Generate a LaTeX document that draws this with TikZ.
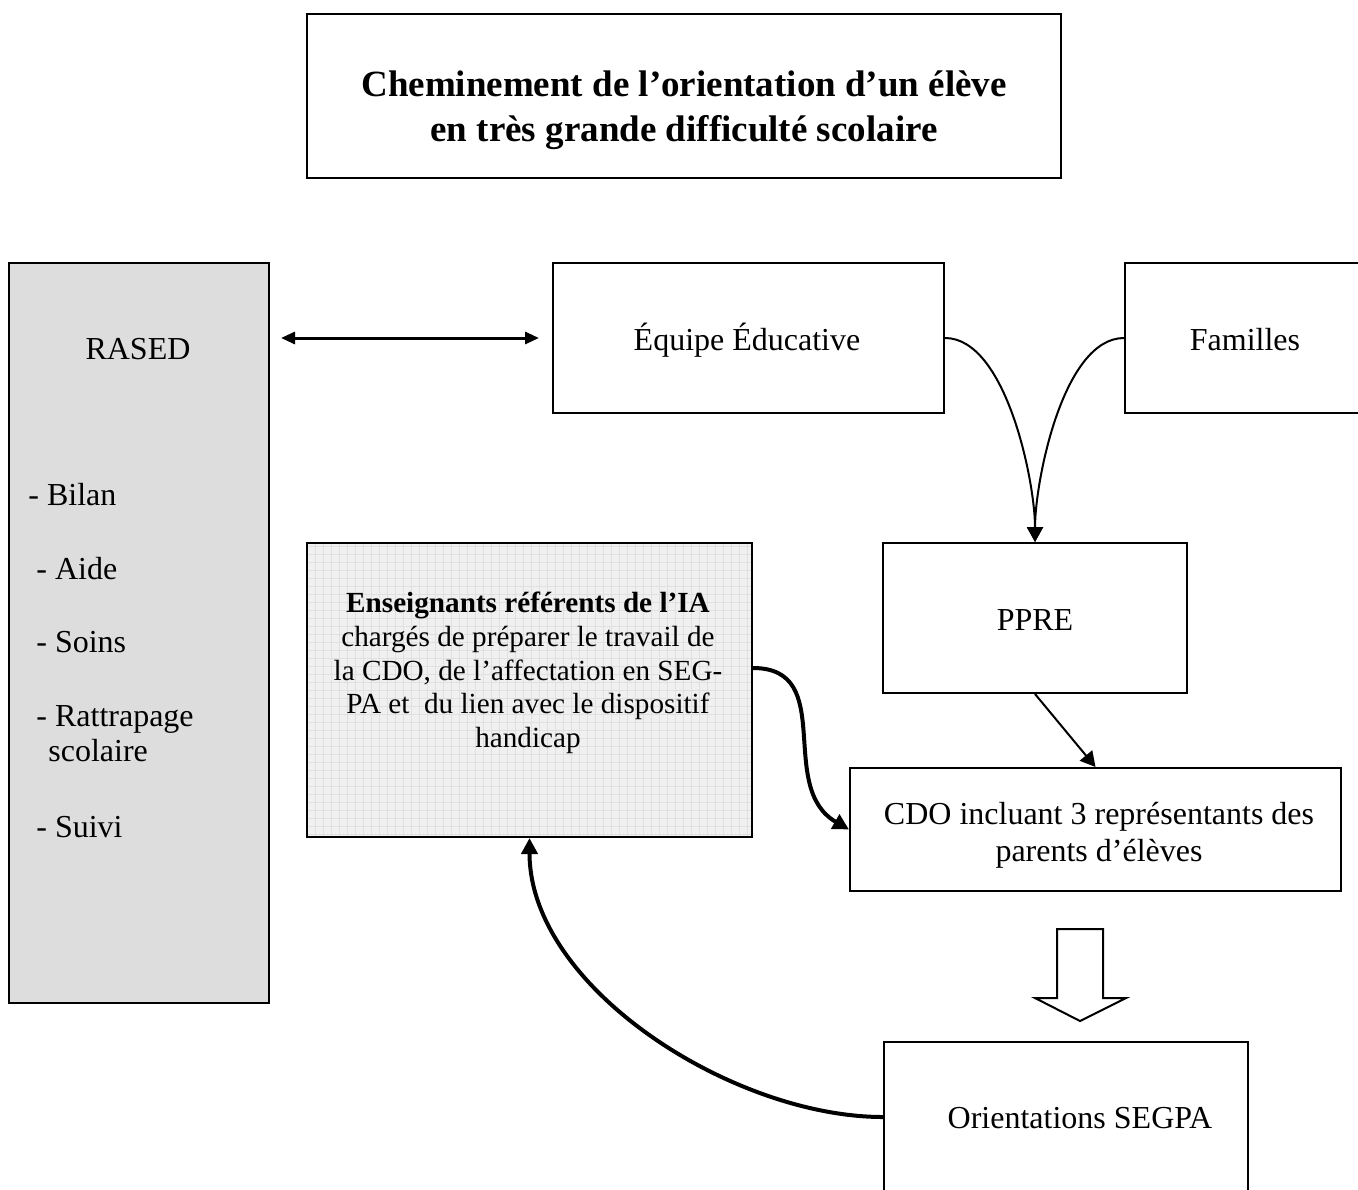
\documentclass[tikz,border=0pt]{standalone}
\usepackage{fontspec}
\setmainfont{Liberation Serif}
\usetikzlibrary{arrows.meta,fit}
\definecolor{rasedgray}{HTML}{DDDDDD}
\definecolor{ensfill}{HTML}{F0F0F0}
\definecolor{ensgrid}{HTML}{E0E0E0}
\begin{document}
\begin{tikzpicture}[x=0.5pt,y=-0.5pt,
  box/.style={draw, line width=1pt, inner sep=0pt},
  lbl/.style={font=\fontsize{16}{18.5}\selectfont, inner sep=0pt},
  thinarr/.style={line width=1pt, -{Triangle[width=8pt,length=7.5pt]}},
  thickarr/.style={line width=2pt, -{Triangle[width=8pt,length=8pt]}},
  dblarr/.style={line width=1.5pt, {Triangle[width=6pt,length=7pt]}-{Triangle[width=6pt,length=7pt]}},
  blockarrow/.style={draw, line width=1pt, fill=white},
]
\clip (0,0) rectangle (1358,1189);
\fill[white] (0,0) rectangle (1358,1189);

% boxes
\node[box, fit={(307,14)(1061,178)}] (title) {};
\node[box, fill=rasedgray, fit={(9,263)(269,1003)}] (rased) {};
\node[box, fit={(553,263)(944,413)}] (equipe) {};
\node[box, fit={(1125,263)(1375,413)}] (familles) {};
\node[box, fit={(883,543)(1187,693)}] (ppre) {};
\node[box, fill=ensfill, fit={(307,543)(752,837)},
  path picture={\draw[ensgrid, line width=0.3pt, step=4pt]
    (path picture bounding box.south west) grid (path picture bounding box.north east);}] (ens) {};
\node[box, fit={(850,768)(1341,891)}] (cdo) {};
\node[box, fit={(884,1042)(1248,1192)}] (orient) {};

% texts
\node[font=\bfseries\fontsize{18.5}{22.3}\selectfont, align=center, inner sep=0pt] (titletext) at (684,110)
  {Cheminement de l’orientation d’un élève\\en très grande difficulté scolaire};
\node[lbl, anchor=base] (rasedtext) at (138,359) {RASED};
\node[lbl, anchor=base west] (bilan) at (28,505) {- Bilan};
\node[lbl, anchor=base west] (aide) at (36,579) {- Aide};
\node[lbl, anchor=base west] (soins) at (36,652) {- Soins};
\node[lbl, anchor=base west] (rattrapage) at (36,726) {- Rattrapage};
\node[lbl, anchor=base west] (scolaire) at (48,761) {scolaire};
\node[lbl, anchor=base west] (suivi) at (36,837) {- Suivi};
\node[lbl, anchor=base] (equipetext) at (747,350) {Équipe Éducative};
\node[lbl, anchor=base] (famillestext) at (1245,350) {Familles};
\node[lbl, anchor=base] (ppretext) at (1035,630) {PPRE};
\node[font=\fontsize{14.6}{16.9}\selectfont, align=center, inner sep=0pt] (enstext) at (528,673)
  {\textbf{Enseignants référents de l’IA}\\chargés de préparer le travail de\\la CDO, de l’affectation en SEG-\\PA et\ \ du lien avec le dispositif\\handicap};
\node[lbl, align=center] (cdotext) at (1099,835) {CDO incluant 3 représentants des\\parents d’élèves};
\node[lbl, anchor=base] (orienttext) at (1080,1128) {Orientations SEGPA};

% connectors
\draw[dblarr, shorten <=5.5pt, shorten >=6.5pt] (rased.east |- equipe.west) -- (equipe.west);
\draw[thinarr] (equipe.east) to[out=0,in=90,looseness=0.7] (ppre.north);
\draw[thinarr] (familles.west) to[out=180,in=90,looseness=0.7] (ppre.north);
\draw[thinarr] (ppre.south) -- (cdo.north);
\draw[thickarr] ([yshift=11pt]ens.east) to[out=0,in=150,looseness=1.15] (cdo.west);
\draw[thickarr] (orient.west) to[out=180,in=-90,looseness=0.85] (ens.south);

% hollow block arrow from CDO to Orientations
\draw[blockarrow] (1057,929) -- (1103,929) -- (1103,998) -- (1126,998) -- (1080,1021)
  -- (1035,998) -- (1057,998) -- cycle;
\end{tikzpicture}
\end{document}
